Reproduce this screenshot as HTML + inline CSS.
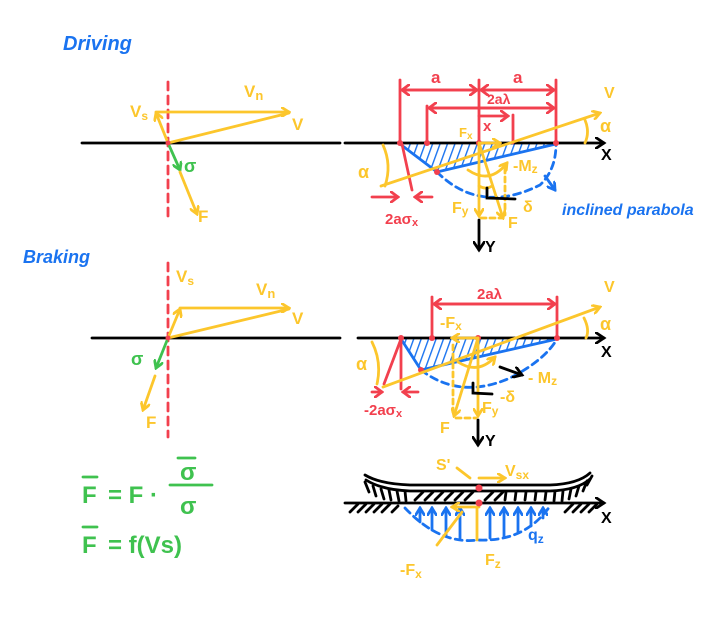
<!DOCTYPE html>
<html><head><meta charset="utf-8"><style>
html,body{margin:0;padding:0;background:#fff;}
svg{display:block;}
text{font-family:"Liberation Sans",sans-serif;font-weight:bold;}
svg line, svg path{stroke-width:2.8;}
</style></head><body>
<svg width="719" height="631" viewBox="0 0 719 631" xmlns="http://www.w3.org/2000/svg">
<defs>
<marker id="ay" markerWidth="10" markerHeight="10" refX="8" refY="5" orient="auto" markerUnits="userSpaceOnUse"><path d="M0,0 L8,5 L0,10" fill="none" stroke="#fcc62c" stroke-width="2.2" stroke-linecap="round"/></marker>
<marker id="ar" markerWidth="10" markerHeight="12" refX="8" refY="6" orient="auto" markerUnits="userSpaceOnUse"><path d="M0,0 L8,6 L0,12" fill="none" stroke="#f2404e" stroke-width="2.2" stroke-linecap="round"/></marker>
<marker id="ak" markerWidth="12" markerHeight="12" refX="9" refY="6" orient="auto" markerUnits="userSpaceOnUse"><path d="M0,0 L9,6 L0,12" fill="none" stroke="#000" stroke-width="2.2" stroke-linecap="round"/></marker>
<marker id="ag" markerWidth="10" markerHeight="10" refX="8" refY="5" orient="auto" markerUnits="userSpaceOnUse"><path d="M0,0 L8,5 L0,10" fill="none" stroke="#3fc24f" stroke-width="2.2" stroke-linecap="round"/></marker>
<marker id="ab" markerWidth="10" markerHeight="10" refX="8" refY="5" orient="auto" markerUnits="userSpaceOnUse"><path d="M0,0 L8,5 L0,10" fill="none" stroke="#1a73f0" stroke-width="2.2" stroke-linecap="round"/></marker>
<pattern id="hatch" width="7" height="7" patternUnits="userSpaceOnUse" patternTransform="rotate(20)"><line x1="0" y1="0" x2="0" y2="7" stroke="#1a73f0" stroke-width="2.4"/></pattern>
</defs>
<g stroke-linecap="round" fill="none">

<text x="63" y="50" font-size="20" font-style="italic" font-weight="bold" fill="#1a73f0" stroke="none">Driving</text>
<text x="23" y="263" font-size="18" font-style="italic" font-weight="bold" fill="#1a73f0" stroke="none">Braking</text>

<line x1="168" y1="82" x2="168" y2="222" stroke="#f2404e" stroke-width="2.2" stroke-dasharray="8,6"/>
<line x1="82" y1="143" x2="340" y2="143" stroke="#000" stroke-width="2.4"/>
<line x1="168" y1="143" x2="156" y2="113" stroke="#fcc62c" stroke-width="2.4" marker-end="url(#ay)"/>
<line x1="156" y1="112" x2="289" y2="112" stroke="#fcc62c" stroke-width="2.4" marker-end="url(#ay)"/>
<line x1="168" y1="143" x2="289" y2="113" stroke="#fcc62c" stroke-width="2.4"/>
<line x1="168" y1="143" x2="180" y2="170" stroke="#3fc24f" stroke-width="2.4" marker-end="url(#ag)"/>
<line x1="180" y1="172" x2="197" y2="214" stroke="#fcc62c" stroke-width="2.4" marker-end="url(#ay)"/>
<circle cx="168" cy="143" r="2.5" fill="#f2404e" stroke="none"/>
<g fill="#fcc62c" stroke="none" font-size="17">
<text x="130" y="117">V<tspan font-size="12" dy="3">s</tspan></text>
<text x="244" y="97">V<tspan font-size="13" dy="3">n</tspan></text>
<text x="292" y="130">V</text>
<text x="198" y="222">F</text>
<text x="176" y="282">V<tspan font-size="12" dy="3">s</tspan></text>
<text x="256" y="295">V<tspan font-size="13" dy="3">n</tspan></text>
<text x="292" y="324">V</text>
<text x="146" y="428">F</text>
</g>
<text x="184" y="172" font-size="18" fill="#3fc24f" stroke="none">σ</text>

<line x1="168" y1="263" x2="168" y2="437" stroke="#f2404e" stroke-width="2.2" stroke-dasharray="8,6"/>
<line x1="92" y1="338" x2="340" y2="338" stroke="#000" stroke-width="2.4"/>
<line x1="168" y1="338" x2="180" y2="309" stroke="#fcc62c" stroke-width="2.4" marker-end="url(#ay)"/>
<line x1="180" y1="308" x2="289" y2="308" stroke="#fcc62c" stroke-width="2.4" marker-end="url(#ay)"/>
<line x1="168" y1="338" x2="289" y2="309" stroke="#fcc62c" stroke-width="2.4"/>
<line x1="168" y1="338" x2="156" y2="368" stroke="#3fc24f" stroke-width="2.4" marker-end="url(#ag)"/>
<line x1="155" y1="376" x2="143" y2="410" stroke="#fcc62c" stroke-width="2.4" marker-end="url(#ay)"/>
<circle cx="168" cy="338" r="2.5" fill="#f2404e" stroke="none"/>
<text x="131" y="365" font-size="18" fill="#3fc24f" stroke="none">σ</text>

<g fill="#3fc24f" stroke="none" font-size="24">
<text x="82" y="503">F</text>
<text x="108" y="503">= F ·</text>
<text x="180" y="480">σ</text>
<text x="180" y="514">σ</text>
<text x="82" y="553">F</text>
<text x="108" y="553">= f(Vs)</text>
</g>
<line x1="83" y1="477" x2="97" y2="477" stroke="#3fc24f" stroke-width="2.4"/>
<line x1="170" y1="485" x2="212" y2="485" stroke="#3fc24f" stroke-width="2.6"/>
<line x1="178" y1="458" x2="195" y2="458" stroke="#3fc24f" stroke-width="2.4"/>
<line x1="83" y1="527" x2="97" y2="527" stroke="#3fc24f" stroke-width="2.4"/>

<path d="M400,144 L437,172 L556,144 Z" fill="url(#hatch)" stroke="none"/>
<path d="M400,144 L437,172 L556,144" stroke="#1a73f0" stroke-width="2.4"/>
<path d="M437,172 Q480,215 540,185 Q556,170 556,144" stroke="#1a73f0" stroke-width="2.2" stroke-dasharray="7,5"/>
<line x1="545" y1="176" x2="555" y2="190" stroke="#1a73f0" stroke-width="2.2" marker-end="url(#ab)"/>
<text x="562" y="215" font-size="16" fill="#1a73f0" stroke="none" font-style="italic">inclined parabola</text>
<line x1="345" y1="143" x2="604" y2="143" stroke="#000" stroke-width="2.4" marker-end="url(#ak)"/>
<text x="601" y="160" font-size="16" font-weight="bold" fill="#000" stroke="none">X</text>
<g stroke="#f2404e" stroke-width="2.2">
<line x1="400" y1="80" x2="400" y2="143"/>
<line x1="479" y1="80" x2="479" y2="143"/>
<line x1="556" y1="80" x2="556" y2="143"/>
<line x1="427" y1="106" x2="427" y2="143"/>
<line x1="513" y1="115" x2="513" y2="143"/>
<line x1="402" y1="90" x2="477" y2="90" marker-end="url(#ar)"/>
<line x1="478" y1="90" x2="402" y2="90" marker-end="url(#ar)"/>
<line x1="481" y1="90" x2="554" y2="90" marker-end="url(#ar)"/>
<line x1="554" y1="90" x2="481" y2="90" marker-end="url(#ar)"/>
<line x1="429" y1="108" x2="554" y2="108" marker-end="url(#ar)"/>
<line x1="554" y1="108" x2="429" y2="108" marker-end="url(#ar)"/>
<line x1="479" y1="116" x2="508" y2="116" marker-end="url(#ar)"/>
<line x1="402" y1="144" x2="412" y2="190"/>
<line x1="372" y1="197" x2="398" y2="197" marker-end="url(#ar)"/>
<line x1="432" y1="197" x2="415" y2="197" marker-end="url(#ar)"/>
</g>
<g fill="#f2404e" stroke="none" font-size="17">
<text x="431" y="83">a</text>
<text x="513" y="83">a</text>
<text x="487" y="104" font-size="14">2aλ</text>
<text x="483" y="131" font-size="15">x</text>
<text x="385" y="224" font-size="15">2aσ<tspan font-size="11" dy="2">x</tspan></text>
</g>
<circle cx="400" cy="143" r="3" fill="#f2404e" stroke="none"/>
<circle cx="427" cy="143" r="3" fill="#f2404e" stroke="none"/>
<circle cx="479" cy="143" r="3" fill="#f2404e" stroke="none"/>
<circle cx="556" cy="143" r="3" fill="#f2404e" stroke="none"/>
<circle cx="437" cy="172" r="3" fill="#f2404e" stroke="none"/>
<g stroke="#fcc62c" stroke-width="2.4">
<line x1="381" y1="186" x2="600" y2="113" marker-end="url(#ay)"/>
<path d="M585,120 Q590,132 585,143"/>
<path d="M383,145 Q392,165 385,186"/>
<line x1="479" y1="143" x2="479" y2="216" marker-end="url(#ay)"/>
<line x1="479" y1="143" x2="503" y2="218" marker-end="url(#ay)"/>
<line x1="479" y1="143" x2="500" y2="143" marker-end="url(#ay)"/>
<path d="M468,170 Q490,185 507,163" marker-end="url(#ay)"/>
<line x1="505" y1="168" x2="505" y2="215" stroke-dasharray="5,4"/>
<line x1="481" y1="218" x2="503" y2="218" stroke-dasharray="5,4"/>
<path d="M479,186 Q486,190 492,186"/>
</g>
<g fill="#fcc62c" stroke="none" font-size="16">
<text x="604" y="98">V</text>
<text x="600" y="132" font-size="18">α</text>
<text x="358" y="178" font-size="18">α</text>
<text x="459" y="137" font-size="13">F<tspan font-size="10" dy="2">x</tspan></text>
<text x="513" y="171">-M<tspan font-size="12" dy="2">z</tspan></text>
<text x="452" y="213">F<tspan font-size="12" dy="2">y</tspan></text>
<text x="508" y="228">F</text>
<text x="523" y="212">δ</text>
</g>
<path d="M487,188 L487,198 L515,199" stroke="#000" stroke-width="2.2"/>
<line x1="479" y1="220" x2="479" y2="250" stroke="#000" stroke-width="2.4" marker-end="url(#ak)"/>
<text x="485" y="252" font-size="16" font-weight="bold" fill="#000" stroke="none">Y</text>

<path d="M401,339 L421,370 L557,339 Z" fill="url(#hatch)" stroke="none"/>
<path d="M401,339 L421,370 L557,339" stroke="#1a73f0" stroke-width="2.4"/>
<path d="M421,370 Q460,400 510,378 Q545,360 557,339" stroke="#1a73f0" stroke-width="2.2" stroke-dasharray="7,5"/>
<line x1="358" y1="338" x2="604" y2="338" stroke="#000" stroke-width="2.4" marker-end="url(#ak)"/>
<text x="601" y="357" font-size="16" font-weight="bold" fill="#000" stroke="none">X</text>
<g stroke="#f2404e" stroke-width="2.2">
<line x1="432" y1="297" x2="432" y2="338"/>
<line x1="557" y1="297" x2="557" y2="338"/>
<line x1="434" y1="304" x2="555" y2="304" marker-end="url(#ar)"/>
<line x1="555" y1="304" x2="434" y2="304" marker-end="url(#ar)"/>
<line x1="401" y1="339" x2="384" y2="384"/>
<line x1="401" y1="339" x2="401" y2="389"/>
<line x1="372" y1="392" x2="382" y2="392" marker-end="url(#ar)"/>
<line x1="418" y1="392" x2="403" y2="392" marker-end="url(#ar)"/>
</g>
<g fill="#f2404e" stroke="none">
<text x="477" y="299" font-size="15">2aλ</text>
<text x="364" y="415" font-size="15">-2aσ<tspan font-size="11" dy="2">x</tspan></text>
</g>
<circle cx="401" cy="338" r="3" fill="#f2404e" stroke="none"/>
<circle cx="432" cy="338" r="3" fill="#f2404e" stroke="none"/>
<circle cx="478" cy="338" r="3" fill="#f2404e" stroke="none"/>
<circle cx="557" cy="338" r="3" fill="#f2404e" stroke="none"/>
<circle cx="421" cy="370" r="3" fill="#f2404e" stroke="none"/>
<g stroke="#fcc62c" stroke-width="2.4">
<line x1="383" y1="387" x2="600" y2="307" marker-end="url(#ay)"/>
<path d="M584,318 Q590,330 586,338"/>
<path d="M372,342 Q382,362 377,384"/>
<line x1="478" y1="338" x2="452" y2="338" marker-end="url(#ay)"/>
<line x1="478" y1="338" x2="478" y2="416" marker-end="url(#ay)"/>
<line x1="478" y1="338" x2="454" y2="416" marker-end="url(#ay)"/>
<path d="M458,362 Q478,375 495,357" marker-end="url(#ay)"/>
<line x1="453" y1="345" x2="453" y2="412" stroke-dasharray="5,4"/>
<line x1="456" y1="418" x2="476" y2="418" stroke-dasharray="5,4"/>
</g>
<g fill="#fcc62c" stroke="none" font-size="16">
<text x="604" y="292">V</text>
<text x="600" y="330" font-size="18">α</text>
<text x="356" y="370" font-size="18">α</text>
<text x="440" y="328">-F<tspan font-size="12" dy="2">x</tspan></text>
<text x="528" y="383">- M<tspan font-size="12" dy="2">z</tspan></text>
<text x="500" y="402">-δ</text>
<text x="482" y="413">F<tspan font-size="12" dy="2">y</tspan></text>
<text x="440" y="433">F</text>
</g>
<line x1="500" y1="367" x2="522" y2="375" stroke="#000" stroke-width="2.2" marker-end="url(#ak)"/>
<path d="M473,383 L473,393 L492,394" stroke="#000" stroke-width="2.2"/>
<line x1="478" y1="420" x2="478" y2="445" stroke="#000" stroke-width="2.4" marker-end="url(#ak)"/>
<text x="485" y="446" font-size="16" font-weight="bold" fill="#000" stroke="none">Y</text>

<path d="M365,475 Q380,484 410,485 L550,485 Q578,484 590,473" stroke="#000" stroke-width="2.4"/>
<path d="M366,480 Q382,490 410,491 L550,491 Q578,490 590,479" stroke="#000" stroke-width="1.5"/>
<g stroke="#000" stroke-width="1.6">
<path d="M365,482 l4,10 M373,486 l3,10 M381,489 l3,10 M389,490 l2,10 M397,491 l2,10 M405,491 l1,10 M555,491 l-1,10 M563,491 l-1,10 M571,489 l-2,10 M579,486 l-3,10 M587,481 l-4,10 M592,476 l-5,9"/>
<path d="M415,500 l8,-8 M425,500 l8,-8 M435,500 l8,-8 M445,500 l8,-8 M455,500 l8,-8 M465,500 l8,-8 M485,500 l8,-8 M495,500 l8,-8 M505,500 l1,-8 M515,500 l1,-8 M525,500 l1,-8 M535,500 l1,-8 M545,500 l1,-8"/>
<path d="M350,512 l8,-8 M358,512 l8,-8 M366,512 l8,-8 M374,512 l8,-8 M382,512 l8,-8 M392,512 l6,-6 M565,512 l8,-8 M573,512 l8,-8 M581,512 l8,-8 M589,512 l8,-8"/>
</g>
<line x1="345" y1="503" x2="604" y2="503" stroke="#000" stroke-width="2.4" marker-end="url(#ak)"/>
<text x="601" y="523" font-size="16" font-weight="bold" fill="#000" stroke="none">X</text>
<path d="M405,508 Q440,545 478,540 Q525,542 550,506" stroke="#1a73f0" stroke-width="2.2" stroke-dasharray="7,5"/>
<g stroke="#1a73f0" stroke-width="2.4">
<line x1="420" y1="522" x2="420" y2="508" marker-end="url(#ab)"/>
<line x1="432" y1="530" x2="432" y2="508" marker-end="url(#ab)"/>
<line x1="446" y1="536" x2="446" y2="508" marker-end="url(#ab)"/>
<line x1="460" y1="538" x2="460" y2="508" marker-end="url(#ab)"/>
<line x1="490" y1="538" x2="490" y2="508" marker-end="url(#ab)"/>
<line x1="504" y1="536" x2="504" y2="508" marker-end="url(#ab)"/>
<line x1="518" y1="532" x2="518" y2="508" marker-end="url(#ab)"/>
<line x1="531" y1="526" x2="531" y2="508" marker-end="url(#ab)"/>
<line x1="543" y1="518" x2="543" y2="508" marker-end="url(#ab)"/>
</g>
<text x="528" y="540" font-size="16" fill="#1a73f0" stroke="none">q<tspan font-size="12" dy="3">z</tspan></text>
<g stroke="#fcc62c" stroke-width="2.4">
<line x1="479" y1="478" x2="505" y2="478" marker-end="url(#ay)"/>
<line x1="457" y1="468" x2="470" y2="478"/>
<line x1="479" y1="507" x2="452" y2="507" marker-end="url(#ay)"/>
<line x1="437" y1="545" x2="462" y2="512"/>
<line x1="477" y1="540" x2="477" y2="508"/>
</g>
<circle cx="479" cy="488" r="3.5" fill="#f2404e" stroke="none"/>
<circle cx="479" cy="503" r="3.5" fill="#f2404e" stroke="none"/>
<g fill="#fcc62c" stroke="none" font-size="16">
<text x="436" y="470">S'</text>
<text x="505" y="476">V<tspan font-size="12" dy="3">sx</tspan></text>
<text x="400" y="575">-F<tspan font-size="12" dy="3">x</tspan></text>
<text x="485" y="565">F<tspan font-size="12" dy="3">z</tspan></text>
</g>
</g>
</svg>
</body></html>
